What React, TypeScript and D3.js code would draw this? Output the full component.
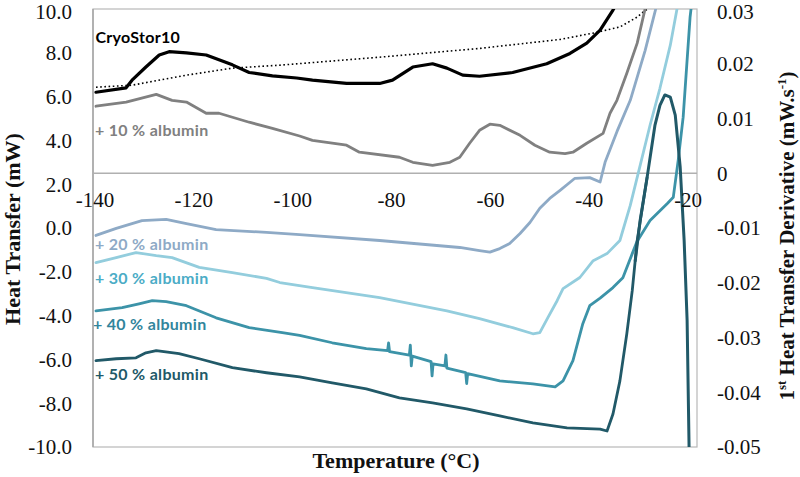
import React, { useMemo } from 'react';
import * as d3 from 'd3';

type Pt = [number, number];

// axis ticks
const xTicks = [-140, -120, -100, -80, -60, -40, -20];
const leftTicks = [10, 8, 6, 4, 2, 0, -2, -4, -6, -8, -10];
const rightTicks = [0.03, 0.02, 0.01, 0, -0.01, -0.02, -0.03, -0.04, -0.05];

// heat transfer curves (temperature °C, mW)
const cryoStor10: Pt[] = [
  [-139.4, 6.2], [-133.3, 6.4], [-132.1, 6.75], [-129.3, 7.35], [-126.6, 7.9], [-124.6, 8.05],
  [-121.1, 8.0], [-117.1, 7.9], [-111.8, 7.45], [-108.4, 7.1], [-103.7, 6.95], [-98.8, 6.85],
  [-95.6, 6.75], [-88.7, 6.6], [-82.0, 6.6], [-79.4, 6.75], [-75.3, 7.35], [-71.3, 7.5],
  [-68.4, 7.3], [-65.2, 6.98], [-61.8, 6.93], [-55.1, 7.1], [-48.2, 7.5], [-43.5, 7.97],
  [-40.1, 8.44], [-37.4, 9.04], [-34.8, 9.95], [-33.2, 10.6],
];

const baseline: Pt[] = [
  [-139.4, 6.43], [-132.1, 6.52], [-121.1, 6.98], [-111.8, 7.3], [-101.9, 7.44], [-82.0, 7.8],
  [-61.8, 8.2], [-45.5, 8.61], [-38.8, 8.9], [-33.4, 9.18], [-29.9, 9.63], [-28.7, 9.86], [-26.5, 10.2],
];

const albumin10: Pt[] = [
  [-139.4, 5.56], [-133.3, 5.75], [-127.2, 6.1], [-124.0, 5.83], [-121.1, 5.75], [-117.1, 5.24],
  [-114.5, 5.24], [-108.4, 4.83], [-103.7, 4.55], [-98.2, 4.2], [-95.6, 4.0], [-88.7, 3.78],
  [-86.1, 3.46], [-78.0, 3.23], [-75.3, 3.0], [-71.3, 2.86], [-67.8, 3.0], [-65.8, 3.23],
  [-63.8, 3.87], [-61.8, 4.46], [-59.7, 4.74], [-57.7, 4.69], [-53.6, 4.23], [-50.6, 3.78],
  [-47.6, 3.46], [-44.5, 3.4], [-42.9, 3.46], [-40.1, 3.87], [-36.8, 4.32], [-35.4, 5.24],
  [-34.0, 5.83], [-32.0, 7.07], [-29.9, 8.44], [-28.0, 10.3],
];

const albumin20: Pt[] = [
  [-139.4, -0.34], [-135.3, -0.02], [-130.1, 0.34], [-125.2, 0.39], [-121.1, 0.2], [-115.1, -0.07],
  [-104.9, -0.2], [-98.2, -0.3], [-82.0, -0.57], [-65.8, -0.89], [-61.8, -1.03], [-59.7, -1.1],
  [-57.7, -0.94], [-55.7, -0.71], [-53.6, -0.25], [-51.6, 0.25], [-49.6, 0.9], [-47.6, 1.35],
  [-45.5, 1.72], [-42.5, 2.27], [-39.5, 2.3], [-37.4, 2.1], [-36.4, 3.0], [-34.0, 4.4],
  [-31.3, 5.83], [-28.3, 8.1], [-25.7, 10.4],
];

const albumin30: Pt[] = [
  [-139.4, -1.58], [-135.3, -1.35], [-131.3, -1.12], [-127.2, -1.26], [-124.0, -1.35], [-118.5, -1.8],
  [-111.8, -2.04], [-104.9, -2.3], [-102.2, -2.49], [-95.6, -2.72], [-82.0, -3.18], [-68.4, -3.78],
  [-61.8, -4.14], [-55.1, -4.55], [-51.0, -4.83], [-49.6, -4.78], [-48.0, -4.1], [-46.1, -3.32],
  [-44.9, -2.77], [-41.5, -2.26], [-38.8, -1.49], [-36.0, -1.17], [-33.4, -0.57], [-31.3, 1.03],
  [-29.3, 2.86], [-27.3, 4.69], [-25.3, 6.38], [-23.2, 8.35], [-21.6, 10.3],
];

const albumin40: Pt[] = [
  [-139.4, -3.78], [-134.1, -3.64], [-130.7, -3.46], [-128.0, -3.32], [-125.2, -3.36], [-121.1, -3.55],
  [-115.1, -4.1], [-108.4, -4.55], [-101.7, -4.78], [-98.2, -4.9], [-91.6, -5.24], [-84.7, -5.51],
  [-80.4, -5.6], [-80.2, -5.25], [-80.0, -5.65], [-76.0, -5.8], [-75.8, -5.35], [-75.6, -6.3],
  [-75.4, -5.85], [-71.6, -6.1], [-71.4, -6.75], [-71.2, -6.2], [-68.8, -6.3], [-68.6, -5.8],
  [-68.4, -6.4], [-64.6, -6.6], [-64.4, -7.1], [-64.2, -6.65], [-57.7, -6.98], [-51.0, -7.12],
  [-46.5, -7.25], [-44.9, -6.98], [-42.9, -6.06], [-40.9, -4.37], [-39.5, -3.55], [-37.4, -3.2],
  [-34.8, -2.72], [-32.8, -2.27], [-30.9, -1.17], [-29.9, -0.6], [-27.3, 0.34], [-23.8, 1.12],
  [-22.6, 1.4], [-21.6, 3.1], [-20.6, 5.06], [-19.2, 9.63], [-18.8, 10.4],
];

const albumin50: Pt[] = [
  [-139.4, -6.06], [-135.3, -5.97], [-131.3, -5.93], [-129.3, -5.7], [-127.2, -5.6], [-122.6, -5.74],
  [-118.5, -5.97], [-111.8, -6.38], [-104.9, -6.61], [-98.2, -6.8], [-91.6, -7.07], [-84.7, -7.35],
  [-78.0, -7.76], [-71.3, -7.99], [-64.4, -8.26], [-57.7, -8.58], [-51.0, -8.9], [-44.1, -9.13],
  [-37.4, -9.18], [-36.0, -9.27], [-34.8, -8.49], [-33.4, -6.98], [-32.0, -4.83], [-30.9, -2.86],
  [-29.9, -0.57], [-27.9, 2.31],
];

// 1st derivative (temperature °C, mW.s-1), right axis
const derivative50: Pt[] = [
  [-30.3, -0.016], [-29.3, -0.0086], [-27.9, -0.0008], [-26.3, 0.0088], [-25.3, 0.0124],
  [-24.3, 0.0143], [-23.2, 0.0139], [-22.2, 0.0106], [-21.2, 0.0011], [-20.4, -0.0123],
  [-19.8, -0.0269], [-19.4, -0.0502],
];

const seriesLabels = [
  { text: 'CryoStor10', color: '#000000', x: -139.5, y: 43 },
  { text: '+ 10 % albumin', color: '#808080', x: -139.6, y: 136 },
  { text: '+ 20 % albumin', color: '#8eaac6', x: -139.6, y: 250 },
  { text: '+ 30 % albumin', color: '#4bacc6', x: -139.6, y: 284 },
  { text: '+ 40 % albumin', color: '#31859c', x: -140, y: 330 },
  { text: '+ 50 % albumin', color: '#215968', x: -139.6, y: 380 },
];

const serif = '"Times New Roman", "Liberation Serif", serif';
const sans = 'Lato, "Open Sans", sans-serif';

const App: React.FC = () => {
  const W = 800;
  const H = 477;
  const plot = { left: 93, right: 697, top: 9, bottom: 447 };

  const { x, yL, yR, lineL, lineR } = useMemo(() => {
    const x = d3.scaleLinear().domain([-140, -17.8]).range([plot.left, plot.right]);
    const yL = d3.scaleLinear().domain([-10, 10]).range([plot.bottom, plot.top]);
    const yR = d3.scaleLinear().domain([-0.05, 0.03]).range([plot.bottom, plot.top]);
    const lineL = d3.line<Pt>().x(d => x(d[0])).y(d => yL(d[1]));
    const lineR = d3.line<Pt>().x(d => x(d[0])).y(d => yR(d[1]));
    return { x, yL, yR, lineL, lineR };
  }, []);

  const axisY = yR(0);
  const curves = [
    { data: albumin10, color: '#808080', w: 2.8 },
    { data: albumin20, color: '#8eaac6', w: 2.8 },
    { data: albumin30, color: '#93cddd', w: 2.8 },
    { data: albumin40, color: '#3c93a8', w: 2.8 },
    { data: albumin50, color: '#215968', w: 2.8 },
    { data: cryoStor10, color: '#000000', w: 3.2 },
  ];

  // keep the top tick labels inside the page
  const tickY = (y: number) => Math.max(y, 12);

  return (
    <div>
      <style>{'body{margin:0}'}</style>
      <svg width={W} height={H} viewBox={`0 0 ${W} ${H}`} style={{ display: 'block', background: '#fff' }}>
        <defs>
          <clipPath id="plot-clip">
            <rect x={plot.left} y={plot.top} width={plot.right - plot.left} height={plot.bottom - plot.top} />
          </clipPath>
        </defs>

        {/* plot frame */}
        <rect
          x={plot.left}
          y={plot.top}
          width={plot.right - plot.left}
          height={plot.bottom - plot.top}
          fill="none"
          stroke="#b8b8b8"
          strokeWidth={1.2}
        />
        <line x1={plot.left} x2={plot.left} y1={plot.top} y2={plot.bottom} stroke="#a6a6a6" strokeWidth={1.5} />
        <line x1={plot.left} x2={plot.right} y1={axisY} y2={axisY} stroke="#b0b0b0" strokeWidth={1.5} />

        {/* curves */}
        <g clipPath="url(#plot-clip)" fill="none" strokeLinejoin="round" strokeLinecap="round">
          <path d={lineL(baseline) || ''} stroke="#000" strokeWidth={1.6} strokeDasharray="1.6 2.6" strokeLinecap="butt" />
          {curves.map((c, i) => (
            <path key={i} d={lineL(c.data) || ''} stroke={c.color} strokeWidth={c.w} />
          ))}
          <path d={lineR(derivative50) || ''} stroke="#215968" strokeWidth={3} />
        </g>

        {/* series labels */}
        {seriesLabels.map((l, i) => (
          <text
            key={i}
            x={x(l.x)}
            y={l.y}
            fill={l.color}
            fontFamily={sans}
            fontWeight={700}
            fontSize={16}
            letterSpacing={0.3}
          >
            {l.text}
          </text>
        ))}

        {/* left axis ticks */}
        {leftTicks.map(t => (
          <text key={t} x={72} y={tickY(yL(t))} dy="0.35em" textAnchor="end" fontFamily={serif} fontSize={21} fill="#111">
            {t.toFixed(1)}
          </text>
        ))}

        {/* right axis ticks */}
        {rightTicks.map(t => (
          <text key={t} x={717} y={tickY(yR(t))} dy="0.35em" textAnchor="start" fontFamily={serif} fontSize={21} fill="#111">
            {t === 0 ? '0' : t.toFixed(2)}
          </text>
        ))}

        {/* x axis ticks */}
        {xTicks.map(t => (
          <text key={t} x={x(t) + 2} y={207} textAnchor="middle" fontFamily={serif} fontSize={21} fill="#111">
            {String(t)}
          </text>
        ))}

        {/* axis titles */}
        <text x={396} y={468} textAnchor="middle" fontFamily={serif} fontWeight={700} fontSize={22} fill="#111">
          Temperature (°C)
        </text>
        <text
          transform="translate(20,229) rotate(-90)"
          textAnchor="middle"
          fontFamily={serif}
          fontWeight={700}
          fontSize={22}
          fill="#111"
        >
          Heat Transfer (mW)
        </text>
        <text
          transform="translate(794,236) rotate(-90)"
          textAnchor="middle"
          fontFamily={serif}
          fontWeight={700}
          fontSize={21}
          fill="#111"
        >
          1<tspan fontSize={13} dy={-8}>st</tspan>
          <tspan dy={8}> Heat Transfer Derivative (mW.s</tspan>
          <tspan fontSize={13} dy={-8}>-1</tspan>
          <tspan dy={8}>)</tspan>
        </text>
      </svg>
    </div>
  );
};

export default App;
